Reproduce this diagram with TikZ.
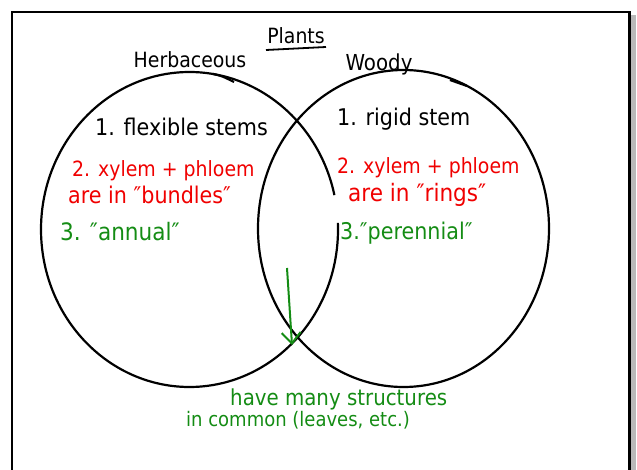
\documentclass[tikz,border=0pt]{standalone}
\usepackage{fontspec}
\setmainfont{DejaVu Sans}[FakeStretch=0.9]
\usetikzlibrary{arrows.meta}
\definecolor{hgreen}{RGB}{20,140,20}
\definecolor{hred}{RGB}{240,0,0}
\begin{document}
\begin{tikzpicture}[x=1pt,y=-1pt,
  fs/.style={font=\fontsize{#1pt}{#1pt}\selectfont},
  lbl/.style={anchor=base west, inner sep=0pt},
  head/.style={anchor=base, inner sep=0pt},
  ring/.style={line width=2.2pt, black},
  frameline/.style={line width=2.6pt, black},
  pointer/.style={line width=2pt, hgreen, -{Straight Barb[length=11pt,width=19pt]}}]
\useasboundingbox (0,0) rectangle (637,470);
% frame with shadow
\fill[gray!55] (631,15) rectangle (636,470);
\draw[frameline] (12,475) -- (12,12) -- (629.5,12) -- (629.5,475);
% headings
\node[head, fs=21] (plants) at (296,44) {Plants};
\draw[line width=1.8pt] (266,50) -- (326,47);
\node[head, fs=21] (herb) at (190,68) {Herbaceous};
\node[head, fs=22] (woody) at (379,71) {Woody};
% circles
\draw[ring] (189.5,229.5) ++(-2.4:148.5 and 157.5)
  arc[start angle=-2.4, end angle=347.4, x radius=148.5, y radius=157.5];
\draw[ring] (213,74) .. controls (222,76) .. (234,82);
\draw[ring] (403.5,228.5) ellipse [x radius=145.5, y radius=158.5];
\draw[ring] (450,80) -- (467,86);
% left texts
\node[lbl, fs=23] (l1) at (95,136) {1. flexible stems};
\node[lbl, fs=21, hred] (l2) at (72,177) {2. xylem + phloem};
\node[lbl, fs=23, hred] (l3) at (68,204) {are in ″bundles″};
\node[lbl, fs=24, hgreen] (l4) at (60,241) {3. ″annual″};
% right texts
\node[lbl, fs=23] (r1) at (337,126) {1. rigid stem};
\node[lbl, fs=21, hred] (r2) at (337,174) {2. xylem + phloem};
\node[lbl, fs=24, hred] (r3) at (348,202) {are in ″rings″};
\node[lbl, fs=23, hgreen] (r4) at (340,240) {3.″perennial″};
% common
\coordinate (astart) at (287,268);
\coordinate (atip) at (292,345);
\draw[pointer] (astart) -- (atip);
\node[lbl, fs=22, hgreen] (b1) at (230,405) {have many structures};
\node[lbl, fs=20, hgreen] (b2) at (186,426) {in common (leaves, etc.)};
\end{tikzpicture}
\end{document}
